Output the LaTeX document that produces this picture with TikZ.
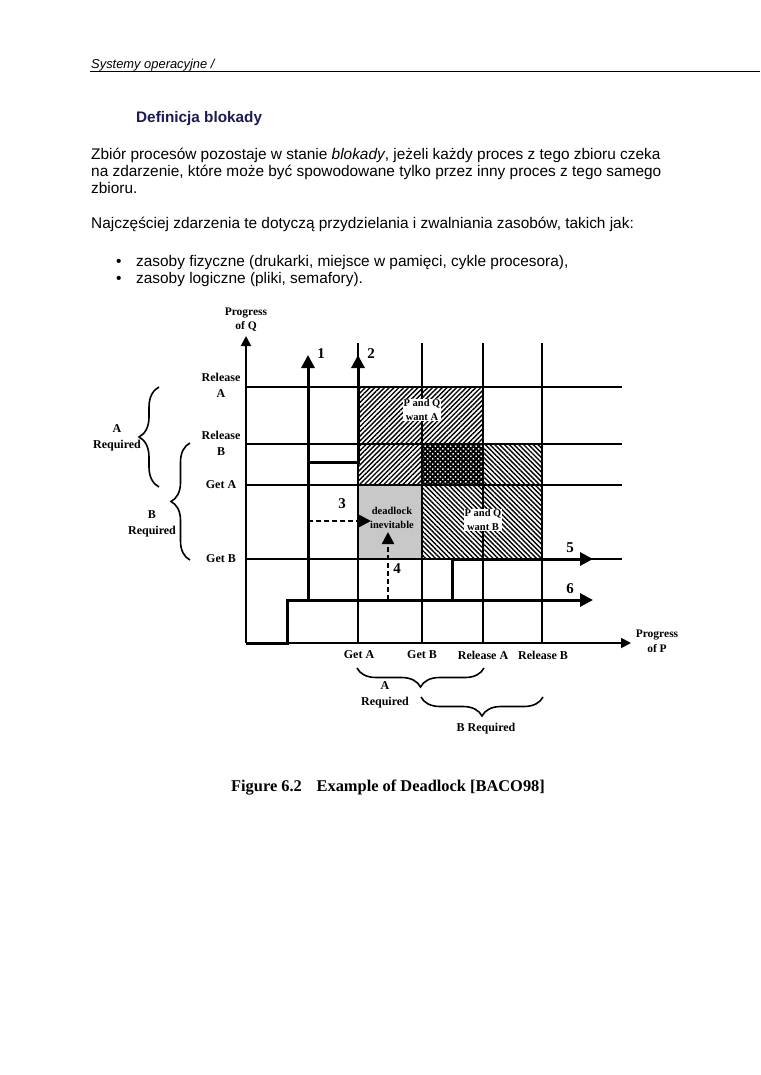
\documentclass[tikz,border=0pt]{standalone}
\usepackage{fontspec}
\setmainfont{Liberation Sans}
\newfontfamily\dfont{Liberation Serif}
\usetikzlibrary{arrows.meta,patterns.meta,decorations.pathreplacing}
\definecolor{headnavy}{RGB}{28,28,84}
\definecolor{deadgray}{RGB}{200,200,200}
\tikzset{
  body/.style={anchor=base west,inner sep=0pt,font=\fontsize{15.4}{17}\selectfont},
  dlab/.style={align=center,inner sep=0pt,font=\dfont\bfseries\fontsize{12}{16}\selectfont},
  rlab/.style={align=center,inner sep=0.6pt,fill=white,font=\dfont\bfseries\fontsize{10.5}{13.5}\selectfont},
  rlabg/.style={align=center,inner sep=0pt,font=\dfont\bfseries\fontsize{10.5}{13.5}\selectfont},
  numlab/.style={inner sep=0pt,font=\dfont\bfseries\fontsize{15}{15}\selectfont},
  grid/.style={line width=1.3pt},
  axis/.style={line width=1.8pt,-{Triangle[length=10pt,width=10pt]}},
  patharrow/.style={line width=3pt,-{Triangle[length=13pt,width=13pt]}},
  dasharrow/.style={line width=2.5pt,dash pattern=on 5pt off 3pt,-{Triangle[length=12pt,width=12pt]}},
  bracel/.style={line width=1.6pt,decorate,decoration={brace,amplitude=#1}},
}
\begin{document}
\begin{tikzpicture}[x=1pt,y=-1pt]
\useasboundingbox (0,0) rectangle (760,1075);
\fill[white] (0,0) rectangle (760,1075);
% header
\node[anchor=base west,inner sep=0pt,font=\fontsize{12.9}{14}\selectfont\itshape] (hdr) at (91,69) {Systemy operacyjne /};
\draw[line width=0.9pt] (90,71.5) -- (760,71.5);
\node[anchor=base west,inner sep=0pt,text=headnavy,font=\fontsize{15.3}{18}\selectfont\bfseries] (title) at (136,123) {Definicja blokady};
\node[body] (p1) at (91,160) {Zbiór procesów pozostaje w stanie \textit{blokady}, jeżeli każdy proces z tego zbioru czeka};
\node[body] (p2) at (91,177) {na zdarzenie, które może być spowodowane tylko przez inny proces z tego samego};
\node[body] (p3) at (91,194) {zbioru.};
\node[body] (p4) at (91,229) {Najczęściej zdarzenia te dotyczą przydzielania i zwalniania zasobów, takich jak:};
\node[body] (b1) at (116,266) {•};
\node[body] (l1) at (136,266) {zasoby fizyczne (drukarki, miejsce w pamięci, cykle procesora),};
\node[body] (b2) at (116,283) {•};
\node[body] (l2) at (136,283) {zasoby logiczne (pliki, semafory).};

% regions
\fill[deadgray] (358,485) rectangle (422,559);
\fill[black] (422,444) rectangle (483,485);
\fill[pattern={Dots[radius=1.05pt,distance=3.6pt,angle=45]},pattern color=white] (422,444) rectangle (483,485);
\fill[pattern={Lines[angle=45,distance=3.4pt,line width=1.4pt]}] (358,387) -- (483,387) -- (483,444) -- (422,444) -- (422,485) -- (358,485) -- cycle;
\fill[pattern={Lines[angle=-45,distance=3.4pt,line width=1.4pt]}] (483,444) -- (542,444) -- (542,559) -- (422,559) -- (422,485) -- (483,485) -- cycle;

% grid
\foreach \yy in {387,444,485,559} \draw[grid] (246,\yy) -- (622,\yy);
\foreach \xx in {358,422,483,542} \draw[grid] (\xx,343) -- (\xx,643);

% axes
\coordinate (O) at (246,643);
\coordinate (Qtop) at (246,336);
\coordinate (Pend) at (631,643);
\draw[axis] (O) -- (Qtop);
\draw[axis] (O) -- (Pend);

% paths
\coordinate (s6a) at (287,643);
\coordinate (s6b) at (287,600);
\coordinate (e6) at (593,600);
\coordinate (s1) at (308,600);
\coordinate (e1) at (308,355);
\coordinate (s2) at (308,462);
\coordinate (k2) at (358,462);
\coordinate (e2) at (358,355);
\coordinate (s5) at (452,600);
\coordinate (k5) at (452,559);
\coordinate (e5) at (593,559);
\coordinate (s3) at (308,521);
\coordinate (e3) at (371,521);
\coordinate (s4) at (388,600);
\coordinate (e4) at (388,532);
\draw[patharrow] (O) -- (s6a) -- (s6b) -- (e6);
\draw[patharrow] (s1) -- (e1);
\draw[patharrow] (s2) -- (k2) -- (e2);
\draw[patharrow] (s5) -- (k5) -- (e5);
\draw[dasharrow] (s3) -- (e3);
\draw[dasharrow] (s4) -- (e4);

% numbers
\node[numlab] (n1) at (321,354) {1};
\node[numlab] (n2) at (371,354) {2};
\node[numlab] (n3) at (342,504) {3};
\node[numlab] (n4) at (397,569) {4};
\node[numlab] (n5) at (570,548) {5};
\node[numlab] (n6) at (570,589) {6};

% region labels
\node[rlab] (wa) at (422,410) {P and Q\\want A};
\node[rlabg] (dl) at (392,518) {deadlock\\inevitable};
\node[rlab] (wb) at (483,520) {P and Q\\want B};

% axis labels
\node[dlab,font=\dfont\bfseries\fontsize{11.5}{14}\selectfont] (pq) at (246,320) {Progress\\of Q};
\node[dlab,font=\dfont\bfseries\fontsize{11.5}{15}\selectfont] (pp) at (657,641) {Progress\\of P};
\node[dlab] (ra) at (221,385.5) {Release\\A};
\node[dlab] (rb) at (221,443) {Release\\B};
\node[dlab] (ga) at (221,485) {Get A};
\node[dlab] (gb) at (221,559) {Get B};
\node[dlab] (xga) at (359,655) {Get A};
\node[dlab] (xgb) at (422,655) {Get B};
\node[dlab] (xra) at (483,655) {Release A};
\node[dlab] (xrb) at (543,655) {Release B};

% braces
\draw[bracel=20pt] (159,487) -- (159,387);
\node[dlab] (areq) at (117,438) {A\\Required};
\draw[bracel=19pt] (190,560) -- (190,443);
\node[dlab] (breq) at (152,524) {B\\Required};
\draw[bracel=19pt] (484,668) -- (357,668);
\node[dlab] (areq2) at (385,695) {A\\Required};
\draw[bracel=19pt] (543,697) -- (421,697);
\node[dlab] (breq2) at (486,729) {B Required};

% caption
\node[inner sep=0pt,font=\dfont\bfseries\fontsize{16.4}{18}\selectfont] (cap) at (388,788) {Figure 6.2\hspace{0.9em}Example of Deadlock [BACO98]};
\end{tikzpicture}
\end{document}
